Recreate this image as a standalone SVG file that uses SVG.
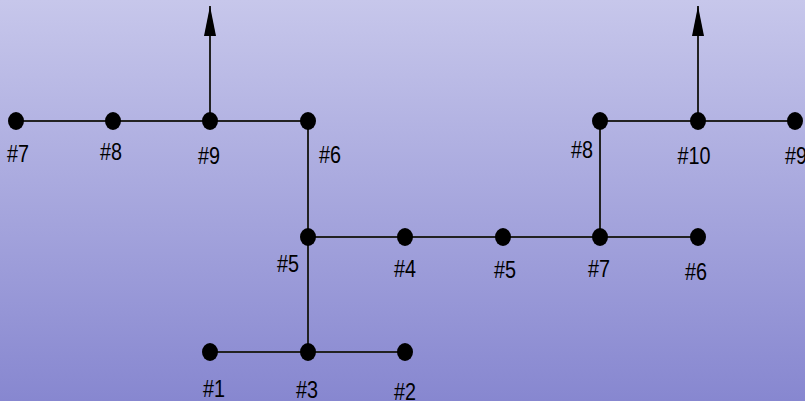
<svg xmlns="http://www.w3.org/2000/svg" width="805" height="401" viewBox="0 0 805 401">
  <defs>
    <linearGradient id="bg" x1="0" y1="0" x2="0" y2="1">
      <stop offset="0" stop-color="#c7c7eb"/>
      <stop offset="1" stop-color="#8787d0"/>
    </linearGradient>
    <marker id="arrow" viewBox="0 0 30 12" refX="30" refY="6" markerWidth="30" markerHeight="12" markerUnits="userSpaceOnUse" orient="auto">
      <path d="M0 0 L30 6 L0 12 Z" fill="#000"/>
    </marker>
    <style>
      .edge { stroke: #222; stroke-width: 2; fill: none; }
      .node ellipse { fill: #000; }
      .node text { font-family: "Liberation Sans", Arial, sans-serif; font-size: 23px; fill: #000; text-anchor: middle; }
    </style>
  </defs>
  <rect width="805" height="401" fill="url(#bg)"/>

  <g id="connectors">
    <line class="edge" x1="16" y1="121" x2="308" y2="121"/>
    <line class="edge" x1="210" y1="121" x2="210" y2="6" marker-end="url(#arrow)"/>
    <line class="edge" x1="308" y1="121" x2="308" y2="352"/>
    <line class="edge" x1="308" y1="237" x2="698" y2="237"/>
    <line class="edge" x1="600" y1="237" x2="600" y2="121"/>
    <line class="edge" x1="600" y1="121" x2="795" y2="121"/>
    <line class="edge" x1="698" y1="121" x2="698" y2="6" marker-end="url(#arrow)"/>
    <line class="edge" x1="210" y1="352" x2="405" y2="352"/>
  </g>

  <g id="n-top7" class="node"><ellipse cx="16" cy="121" rx="8" ry="9"/><text transform="translate(18 162) scale(0.86 1)">#7</text></g>
  <g id="n-top8" class="node"><ellipse cx="113" cy="121" rx="8" ry="9"/><text transform="translate(111 160) scale(0.86 1)">#8</text></g>
  <g id="n-top9" class="node"><ellipse cx="210" cy="121" rx="8" ry="9"/><text transform="translate(209 164) scale(0.86 1)">#9</text></g>
  <g id="n-top6" class="node"><ellipse cx="308" cy="121" rx="8" ry="9"/><text transform="translate(330 163) scale(0.86 1)">#6</text></g>

  <g id="n-mid5a" class="node"><ellipse cx="308" cy="237" rx="8" ry="9"/><text transform="translate(288 272) scale(0.86 1)">#5</text></g>
  <g id="n-mid4" class="node"><ellipse cx="405" cy="237" rx="8" ry="9"/><text transform="translate(405 277) scale(0.86 1)">#4</text></g>
  <g id="n-mid5b" class="node"><ellipse cx="503" cy="237" rx="8" ry="9"/><text transform="translate(505 278) scale(0.86 1)">#5</text></g>
  <g id="n-mid7" class="node"><ellipse cx="600" cy="237" rx="8" ry="9"/><text transform="translate(599 277) scale(0.86 1)">#7</text></g>
  <g id="n-mid6" class="node"><ellipse cx="698" cy="237" rx="8" ry="9"/><text transform="translate(696 280) scale(0.86 1)">#6</text></g>

  <g id="n-right8" class="node"><ellipse cx="600" cy="121" rx="8" ry="9"/><text transform="translate(582 158) scale(0.86 1)">#8</text></g>
  <g id="n-right10" class="node"><ellipse cx="698" cy="121" rx="8" ry="9"/><text transform="translate(694 164) scale(0.86 1)">#10</text></g>
  <g id="n-right9" class="node"><ellipse cx="795" cy="121" rx="8" ry="9"/><text transform="translate(796 164) scale(0.86 1)">#9</text></g>

  <g id="n-bot1" class="node"><ellipse cx="210" cy="352" rx="8" ry="9"/><text transform="translate(214 397) scale(0.86 1)">#1</text></g>
  <g id="n-bot3" class="node"><ellipse cx="308" cy="352" rx="8" ry="9"/><text transform="translate(307 398) scale(0.86 1)">#3</text></g>
  <g id="n-bot2" class="node"><ellipse cx="405" cy="352" rx="8" ry="9"/><text transform="translate(405 400) scale(0.86 1)">#2</text></g>
</svg>
